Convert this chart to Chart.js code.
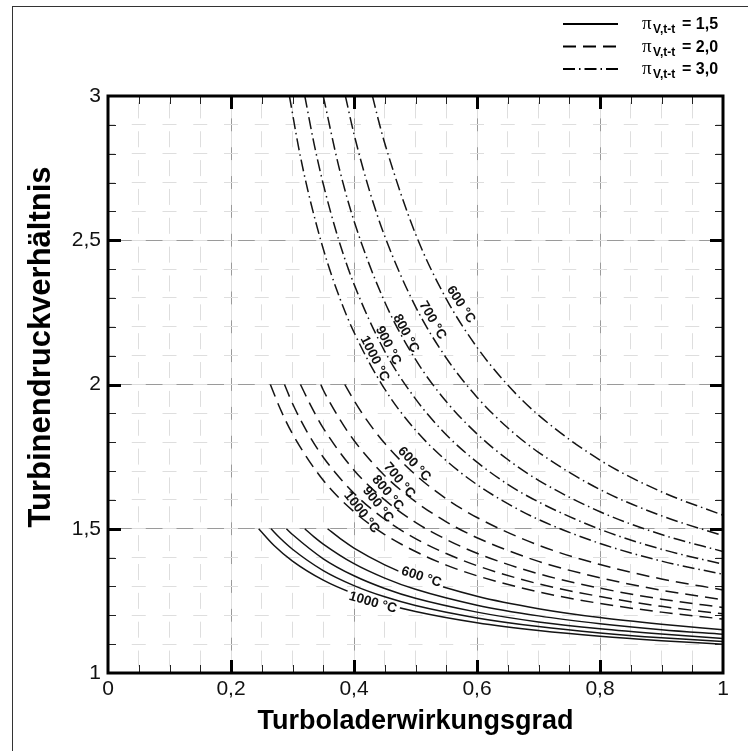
<!DOCTYPE html>
<html>
<head>
<meta charset="utf-8">
<title>Turbinendruckverhältnis</title>
<script src="https://cdn.jsdelivr.net/npm/chart.js@4.4.1/dist/chart.umd.min.js"></script>
<style>
  html, body { margin: 0; padding: 0; background: #fff; }
  #wrap { position: relative; width: 748px; height: 751px; overflow: hidden; }
  #chart { position: absolute; left: 0; top: 0; }
  #frame { position: absolute; left: 12px; top: 6px; right: -2px; bottom: -2px;
           border-left: 1px solid #333; border-top: 1px solid #333; pointer-events: none; }
</style>
</head>
<body>
<div id="wrap">
  <canvas id="chart" width="748" height="751"></canvas>
  <div id="frame"></div>
</div>
<script>
const FONT = '"Liberation Sans", Arial, Helvetica, sans-serif';

// axis ticks
const xTicks = [0, 0.2, 0.4, 0.6, 0.8, 1];
const yTicks = [1, 1.5, 2, 2.5, 3];

// compressor pressure ratios (legend) and turbine inlet temperatures
const pressureRatios = ['1,5', '2,0', '3,0'];
const temps = ['600 °C', '700 °C', '800 °C', '900 °C', '1000 °C'];

// [turbocharger efficiency, turbine pressure ratio] - pi_V = 1,5
const pv15_600 = [[0.357, 1.500], [0.38, 1.462], [0.40, 1.433], [0.45, 1.375], [0.50, 1.330], [0.60, 1.266], [0.70, 1.223], [0.80, 1.192], [0.90, 1.169], [1.00, 1.150]];
const pv15_700 = [[0.320, 1.500], [0.335, 1.472], [0.35, 1.447], [0.40, 1.379], [0.45, 1.329], [0.50, 1.290], [0.60, 1.235], [0.70, 1.198], [0.80, 1.171], [0.90, 1.150], [1.00, 1.134]];
const pv15_800 = [[0.290, 1.500], [0.30, 1.480], [0.35, 1.396], [0.40, 1.337], [0.45, 1.293], [0.50, 1.259], [0.60, 1.211], [0.70, 1.177], [0.80, 1.153], [0.90, 1.135], [1.00, 1.120]];
const pv15_900 = [[0.265, 1.500], [0.28, 1.467], [0.30, 1.429], [0.35, 1.355], [0.40, 1.303], [0.45, 1.264], [0.50, 1.234], [0.60, 1.191], [0.70, 1.161], [0.80, 1.139], [0.90, 1.122], [1.00, 1.109]];
const pv15_1000 = [[0.245, 1.500], [0.27, 1.442], [0.30, 1.388], [0.35, 1.322], [0.40, 1.275], [0.45, 1.240], [0.50, 1.213], [0.60, 1.174], [0.70, 1.147], [0.80, 1.127], [0.90, 1.112], [1.00, 1.100]];

// pi_V = 2,0
const pv20_600 = [[0.385, 2.000], [0.40, 1.945], [0.42, 1.879], [0.45, 1.796], [0.50, 1.687], [0.55, 1.604], [0.60, 1.539], [0.70, 1.443], [0.80, 1.376], [0.90, 1.326], [1.00, 1.288]];
const pv20_700 = [[0.346, 2.000], [0.35, 1.981], [0.375, 1.886], [0.40, 1.806], [0.45, 1.684], [0.50, 1.594], [0.55, 1.524], [0.60, 1.469], [0.70, 1.387], [0.80, 1.330], [0.90, 1.287], [1.00, 1.254]];
const pv20_800 = [[0.313, 2.000], [0.33, 1.926], [0.35, 1.849], [0.40, 1.703], [0.45, 1.600], [0.50, 1.522], [0.55, 1.463], [0.60, 1.415], [0.70, 1.344], [0.80, 1.294], [0.90, 1.256], [1.00, 1.227]];
const pv20_900 = [[0.287, 2.000], [0.30, 1.934], [0.325, 1.831], [0.35, 1.748], [0.40, 1.623], [0.45, 1.533], [0.50, 1.466], [0.55, 1.414], [0.60, 1.372], [0.70, 1.309], [0.80, 1.265], [0.90, 1.231], [1.00, 1.205]];
const pv20_1000 = [[0.264, 2.000], [0.28, 1.916], [0.30, 1.829], [0.35, 1.668], [0.40, 1.559], [0.45, 1.480], [0.50, 1.421], [0.55, 1.374], [0.60, 1.337], [0.70, 1.281], [0.80, 1.241], [0.90, 1.211], [1.00, 1.187]];

// pi_V = 3,0
const pv30_600 = [[0.430, 3.000], [0.44, 2.914], [0.45, 2.836], [0.50, 2.522], [0.55, 2.297], [0.60, 2.129], [0.65, 1.998], [0.70, 1.894], [0.80, 1.738], [0.90, 1.628], [1.00, 1.547]];
const pv30_700 = [[0.386, 3.000], [0.40, 2.868], [0.425, 2.673], [0.45, 2.514], [0.50, 2.270], [0.55, 2.092], [0.60, 1.956], [0.65, 1.850], [0.70, 1.765], [0.80, 1.636], [0.90, 1.545], [1.00, 1.476]];
const pv30_800 = [[0.350, 3.000], [0.375, 2.758], [0.40, 2.567], [0.45, 2.286], [0.50, 2.087], [0.55, 1.941], [0.60, 1.829], [0.65, 1.740], [0.70, 1.668], [0.80, 1.559], [0.90, 1.480], [1.00, 1.421]];
const pv30_900 = [[0.320, 3.000], [0.335, 2.835], [0.35, 2.695], [0.375, 2.502], [0.40, 2.348], [0.45, 2.115], [0.50, 1.950], [0.55, 1.826], [0.60, 1.731], [0.65, 1.654], [0.70, 1.593], [0.80, 1.498], [0.90, 1.429], [1.00, 1.377]];
const pv30_1000 = [[0.295, 3.000], [0.31, 2.821], [0.325, 2.672], [0.35, 2.470], [0.375, 2.310], [0.40, 2.181], [0.45, 1.984], [0.50, 1.842], [0.55, 1.736], [0.60, 1.653], [0.65, 1.587], [0.70, 1.532], [0.80, 1.449], [0.90, 1.388], [1.00, 1.342]];

const families = [
  { curves: [pv15_600, pv15_700, pv15_800, pv15_900, pv15_1000], dash: [] },
  { curves: [pv20_600, pv20_700, pv20_800, pv20_900, pv20_1000], dash: [13, 7] },
  { curves: [pv30_600, pv30_700, pv30_800, pv30_900, pv30_1000], dash: [12, 4, 1.5, 4] }
];

// temperature labels written along the curves (data coordinates, angle in degrees)
const curveLabels = [
  { text: '600 °C', x: 0.510, y: 1.336, angle: 18, knockout: true },
  { text: '1000 °C', x: 0.431, y: 1.247, angle: 16, knockout: true },
  { text: '600 °C', x: 0.499, y: 1.726, angle: 47 },
  { text: '700 °C', x: 0.475, y: 1.670, angle: 50 },
  { text: '800 °C', x: 0.456, y: 1.626, angle: 50 },
  { text: '900 °C', x: 0.440, y: 1.586, angle: 52 },
  { text: '1000 °C', x: 0.4135, y: 1.559, angle: 52 },
  { text: '600 °C', x: 0.575, y: 2.279, angle: 57 },
  { text: '700 °C', x: 0.529, y: 2.224, angle: 60 },
  { text: '800 °C', x: 0.486, y: 2.178, angle: 62 },
  { text: '900 °C', x: 0.457, y: 2.137, angle: 63 },
  { text: '1000 °C', x: 0.435, y: 2.091, angle: 63 }
];

const datasets = [];
families.forEach((fam, f) => {
  fam.curves.forEach((curve, i) => {
    datasets.push({
      label: 'pi_V = ' + pressureRatios[f] + ', ' + temps[i],
      data: curve,
      borderColor: '#141414',
      borderWidth: 1.5,
      borderDash: fam.dash,
      pointRadius: 0,
      fill: false,
      cubicInterpolationMode: 'monotone',
      xAxisID: 'x',
      yAxisID: 'y'
    });
  });
});

function fmt(v) {
  return String(Math.round(v * 10) / 10).replace('.', ',');
}

function isEdge(scale, v) {
  return Math.abs(v - scale.min) < 1e-9 || Math.abs(v - scale.max) < 1e-9;
}

/**
 * Frame, inward tick marks, curve labels, axis titles and legend
 */
const decorations = {
  id: 'decorations',
  afterDatasetsDraw(chart) {
    const { ctx, chartArea: a } = chart;
    const x = chart.scales.x;
    const y = chart.scales.y;

    ctx.save();

    // curve labels
    ctx.font = 'bold 13.5px ' + FONT;
    ctx.textAlign = 'center';
    ctx.textBaseline = 'middle';
    curveLabels.forEach(l => {
      const px = x.getPixelForValue(l.x);
      const py = y.getPixelForValue(l.y);
      ctx.save();
      ctx.translate(px, py);
      ctx.rotate(l.angle * Math.PI / 180);
      if (l.knockout) {
        const w = ctx.measureText(l.text).width;
        ctx.fillStyle = '#fff';
        ctx.fillRect(-w / 2 - 3, -6, w + 6, 12);
      }
      ctx.fillStyle = '#111';
      ctx.fillText(l.text, 0, 1);
      ctx.restore();
    });

    // minor ticks
    ctx.strokeStyle = '#222';
    ctx.lineWidth = 1;
    ctx.beginPath();
    for (let i = 1; i < 20; i++) {
      if (i % 4 === 0) continue;
      const px = Math.round(x.getPixelForValue(i / 20)) + 0.5;
      ctx.moveTo(px, a.bottom); ctx.lineTo(px, a.bottom - 8);
      ctx.moveTo(px, a.top); ctx.lineTo(px, a.top + 8);
    }
    for (let i = 1; i < 20; i++) {
      if (i % 5 === 0) continue;
      const py = Math.round(y.getPixelForValue(1 + i / 10)) + 0.5;
      ctx.moveTo(a.left, py); ctx.lineTo(a.left + 8, py);
      ctx.moveTo(a.right, py); ctx.lineTo(a.right - 8, py);
    }
    ctx.stroke();

    // major ticks
    ctx.strokeStyle = '#000';
    ctx.lineWidth = 3;
    ctx.beginPath();
    xTicks.forEach(v => {
      if (isEdge(x, v)) return;
      const px = Math.round(x.getPixelForValue(v)) + 0.5;
      ctx.moveTo(px, a.bottom); ctx.lineTo(px, a.bottom - 13);
      ctx.moveTo(px, a.top); ctx.lineTo(px, a.top + 13);
    });
    yTicks.forEach(v => {
      if (isEdge(y, v)) return;
      const py = Math.round(y.getPixelForValue(v)) + 0.5;
      ctx.moveTo(a.left, py); ctx.lineTo(a.left + 13, py);
      ctx.moveTo(a.right, py); ctx.lineTo(a.right - 13, py);
    });
    ctx.stroke();

    // plot frame
    ctx.lineWidth = 3;
    ctx.strokeRect(a.left, a.top, a.right - a.left, a.bottom - a.top);

    // axis titles
    ctx.fillStyle = '#000';
    ctx.textAlign = 'center';
    ctx.textBaseline = 'alphabetic';
    ctx.font = 'bold 27px ' + FONT;
    ctx.fillText('Turboladerwirkungsgrad', (a.left + a.right) / 2, 729);
    ctx.save();
    ctx.font = 'bold 31px ' + FONT;
    ctx.translate(50, 347);
    ctx.rotate(-Math.PI / 2);
    ctx.fillText('Turbinendruckverhältnis', 0, 0);
    ctx.restore();

    // legend
    ctx.textAlign = 'left';
    families.forEach((fam, f) => {
      const base = 29 + f * 22.5;
      ctx.strokeStyle = '#000';
      ctx.lineWidth = 2;
      ctx.setLineDash(fam.dash);
      ctx.beginPath();
      ctx.moveTo(563, base - 5);
      ctx.lineTo(618, base - 5);
      ctx.stroke();
      ctx.setLineDash([]);
      ctx.font = '19px "Liberation Serif", serif';
      ctx.fillText('π', 642, base);
      ctx.font = 'bold 12px ' + FONT;
      ctx.fillText('V,t-t', 653, base + 4);
      ctx.font = 'bold 16px ' + FONT;
      ctx.fillText('= ' + pressureRatios[f], 682, base);
    });

    ctx.restore();
  }
};

const chart = new Chart(document.getElementById('chart').getContext('2d'), {
  type: 'line',
  data: { datasets },
  options: {
    responsive: false,
    animation: false,
    layout: { padding: { top: 96, right: 25, bottom: 0, left: 0 } },
    plugins: {
      legend: { display: false },
      tooltip: { enabled: false }
    },
    scales: {
      x: {
        type: 'linear', position: 'bottom', min: 0, max: 1,
        afterBuildTicks: s => { s.ticks = xTicks.map(v => ({ value: v })); },
        afterFit: s => { s.height = 78; },
        ticks: { font: { family: FONT, size: 21 }, color: '#111', padding: 4, maxRotation: 0, autoSkip: false, callback: fmt },
        grid: { color: c => (c.tick && isEdge(c.scale, c.tick.value)) ? 'rgba(0,0,0,0)' : '#9a9a9a', lineWidth: 1, drawTicks: false },
        border: { display: false }
      },
      y: {
        type: 'linear', position: 'left', min: 1, max: 3,
        afterBuildTicks: s => { s.ticks = yTicks.map(v => ({ value: v })); },
        afterFit: s => { s.width = 108; },
        ticks: { font: { family: FONT, size: 21 }, color: '#111', padding: 7, autoSkip: false, callback: fmt },
        grid: { color: c => (c.tick && isEdge(c.scale, c.tick.value)) ? 'rgba(0,0,0,0)' : '#9a9a9a', lineWidth: 1, drawTicks: false },
        border: { display: false }
      },
      // light dashed minor grid
      xm: {
        type: 'linear', position: 'bottom', min: 0, max: 1,
        afterFit: s => { s.height = 0; },
        ticks: { display: false, stepSize: 0.05 },
        grid: { color: '#dedede', lineWidth: 1, drawTicks: false },
        border: { display: false, dash: [16, 12.85], dashOffset: 22.45 }
      },
      ym: {
        type: 'linear', position: 'left', min: 1, max: 3,
        afterFit: s => { s.width = 0; },
        ticks: { display: false, stepSize: 0.1 },
        grid: { color: '#dedede', lineWidth: 1, drawTicks: false },
        border: { display: false, dash: [14, 16.75], dashOffset: 7 }
      }
    }
  },
  plugins: [decorations]
});
</script>
</body>
</html>
